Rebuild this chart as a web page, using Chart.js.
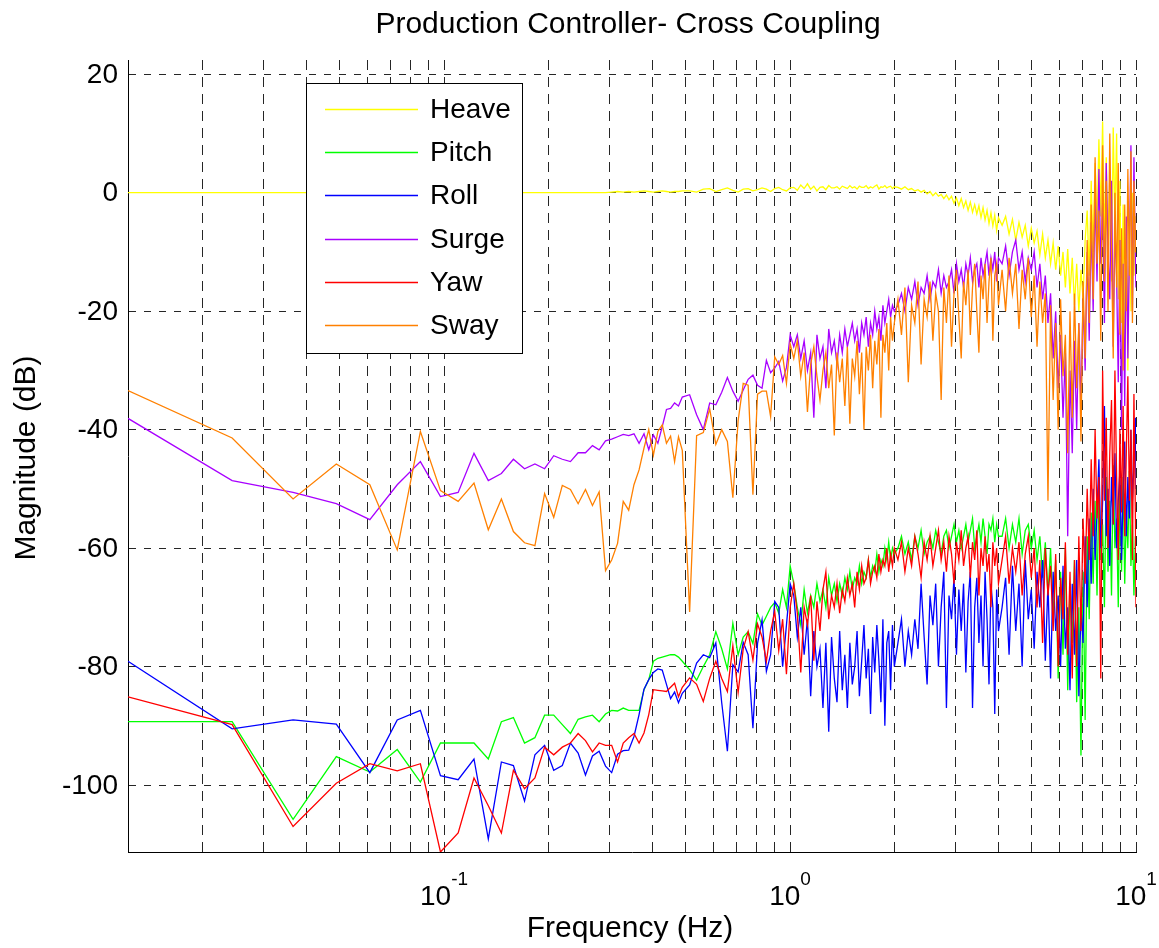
<!DOCTYPE html>
<html>
<head>
<meta charset="utf-8">
<title>Production Controller- Cross Coupling</title>
<script src="https://cdn.jsdelivr.net/npm/chart.js@4.4.1/dist/chart.umd.min.js"></script>
<style>
  html, body { margin: 0; padding: 0; background: #fff; }
  #wrap { width: 1159px; height: 948px; }
</style>
</head>
<body>
<div id="wrap"><canvas id="plot" width="1159" height="948"></canvas></div>
<script>
// ---- data ----
const TITLE = 'Production Controller- Cross Coupling';
const X_LABEL = 'Frequency (Hz)';
const Y_LABEL = 'Magnitude (dB)';

const BIN_HZ = 100 / 8192;   // fft bin width
function span(a, b, step) { const out = []; for (let k = a; k <= b; k += step) out.push(k); return out; }
// bins kept from the spectrum (every bin at low freq, thinned out above 1 Hz)
const bins = [].concat(span(1, 40, 1), span(42, 82, 2), span(84, 164, 2), span(168, 328, 4), span(336, 816, 8), [819]);
const freqs = bins.map(k => k * BIN_HZ);

const seriesNames = ['Heave', 'Pitch', 'Roll', 'Surge', 'Yaw', 'Sway'];
const seriesColors = ['#ffff00', '#00ff00', '#0000ff', '#a800ff', '#ff0000', '#ff8000'];

const heave = [
  0,0,0,0,0,0,0,0,0,0, 0,0,0,0,0,0,0,0,0,0, 0,0,0,0,0.1,0.2,0.1,0.2,0.1,0.2,
  0.3,0.2,0.1,0.2,0.3,0.2,0.1,0.2,0.2,0.3,
  0.3,0.1,0.6,0.7,0.2,0.5,0.8,0.4,0.1,0.6, 0.7,0.3,0.5,0.8,0.6,0.2,0.7,0.9,0.5,0.3, 0.8,
  0.9,0.4,1.3,0.7,1.5,0.6,1.1,0.3,0.9,1.0, 0.5,1.2,0.8,0.8,1.0,0.6,1.1,0.9,0.7,1.2,
  0.8,1.0,0.6,1.1,0.9,0.9,1.2,0.7,1.0,0.8, 1.1,1.3,0.6,1.0,0.9,1.2,0.8,1.0,1.1,0.7, 1.0,
  0.9,0.6,1.0,0.5,0.7,0.3,0.5,0.1,0.4,-0.2, 0.2,-0.5,0,-0.6,-0.3,-1.0,-0.4,-1.2,-0.6,-1.8,
  -0.9,-2.2,-1.0,-2.5,-1.4,-3.0,-1.6,-3.3,-2.0,-3.6, -2.2,-4.2,-2.5,-4.6,-3.0,-5.2,-3.4,-5.6,-3.8,-6.4, -4.2,
  -5.5,-4.0,-7.0,-4.5,-8.0,-5.0,-7.5,-5.5,-9.0,-6.0, -8.5,-6.5,-10.5,-7.0,-11.0,-8.0,-12.0,-8.5,-13.0,-9.0,
  -14.0,-10.0,-16.0,-9.5,-17.0,-11.0,-19.0,-12.0,-20.0,-13.0, -18.0,-8.0,-3.0,-14.0,2.0,-10.0,5.0,-6.0,9.0,-4.0,
  12.0,-8.0,6.0,-12.0,3.0,-15.0,11.0,-5.0,10.0,-18.0, 2.0,-22.0,-2.0,-26.0,-8.0,-30.0,-5.0,-20.0,0.0,-14.0, -4.0,-8.0
];

const pitch = [
  -89.3,-89.3,-105.8,-95.2,-97.8,-94.0,-99.5,-92.9,-92.9,-92.9, -95.6,-89.3,-88.6,-92.9,-92.0,-88.2,-88.2,-89.8,-91.3,-88.9,
  -88.5,-88.2,-89.3,-88.0,-87.4,-87.5,-87.0,-87.4,-87.4,-87.4, -83.9,-82.2,-79.1,-78.6,-78.4,-78.2,-78.0,-78.0,-78.4,-79.1,
  -80.5,-82.3,-80.0,-78.0,-74.1,-77.0,-80.4,-72.7,-78.0,-75.0, -74.1,-76.1,-71.1,-73.0,-71.5,-70.0,-69.2,-71.0,-67.0,-70.0, -63.0,
  -66,-70,-73,-67,-71,-68,-70,-66,-69,-67, -70,-65,-68,-66,-69,-66,-68,-65,-67,-64,
  -67,-65,-66,-63,-66,-64,-65,-62,-65,-63, -64,-61,-64,-62,-63,-60,-62,-59,-62,-60, -61,
  -60,-58,-61,-59,-62,-58,-60,-57,-61,-59, -58,-60,-57,-59,-61,-58,-57,-60,-58,-56,
  -59,-57,-60,-58,-56,-59,-57,-55,-60,-58, -56,-59,-55,-58,-61,-56,-57,-55,-59,-56, -58,
  -58,-55,-60,-56,-59,-55,-61,-57,-56,-60, -57,-62,-58,-65,-59,-68,-60,-72,-62,-82,
  -64,-78,-60,-84,-66,-76,-62,-86,-70,-95, -64,-89,-58,-72,-54,-66,-52,-68,-50,-62,
  -56,-70,-48,-64,-52,-68,-46,-60,-55,-70, -50,-64,-48,-66,-54,-60,-47,-63,-56,-68, -58,-62
];

const roll = [
  -79.1,-90.5,-89.0,-89.7,-97.9,-89.0,-87.4,-98.4,-99.1,-95.6, -109.1,-96.1,-96.7,-102.7,-94.9,-93.3,-97.5,-96.7,-92.9,-94.6,
  -98.3,-95.1,-94.3,-96.8,-97.9,-94.8,-94.2,-94.1,-91.8,-88.1, -83.8,-82.2,-81.0,-80.4,-80.6,-83.0,-85.4,-84.3,-86.1,-84.5,
  -83.1,-79.4,-78.0,-78.5,-76.0,-86.1,-94.3,-79.7,-80.9,-75.9, -78.0,-90.4,-76.1,-72.1,-80.8,-78.0,-69.0,-70.0,-80.0,-73.0, -66.0,
  -68,-75,-70,-78,-72,-85,-74,-80,-77,-87, -76,-91,-75,-82,-86,-74,-84,-78,-87,-76,
  -83,-80,-74,-85,-79,-73,-82,-77,-88,-75, -81,-73,-79,-86,-72,-90,-76,-74,-84,-73, -80,
  -76,-72,-80,-74,-78,-72,-77,-66,-75,-83, -68,-73,-66,-80,-70,-64,-87,-68,-72,-65,
  -78,-67,-74,-66,-81,-69,-64,-87,-70,-65, -76,-68,-80,-64,-72,-83,-66,-70,-88,-67, -74,
  -70,-65,-78,-63,-74,-66,-80,-62,-72,-67, -77,-64,-70,-62,-79,-66,-82,-64,-74,-68,
  -80,-63,-77,-70,-84,-66,-78,-62,-85,-70, -76,-58,-70,-55,-66,-50,-62,-54,-45,-60,
  -52,-36,-58,-50,-63,-48,-56,-44,-60,-52, -47,-62,-50,-42,-58,-48,-55,-40,-52,-46, -38,-50
];

const surge = [
  -38.1,-48.6,-50.6,-52.5,-55.2,-49.3,-45.4,-51.3,-50.6,-44.0, -48.6,-47.4,-45.0,-46.6,-45.8,-46.6,-44.4,-45.0,-45.4,-43.9,
  -43.9,-42.7,-43.4,-41.9,-41.6,-41.2,-40.8,-41.0,-40.7,-42.3, -40.7,-43.4,-40.9,-42.3,-39.5,-36.6,-36.4,-35.5,-36.0,-34.5,
  -34.1,-37.5,-40.0,-35.5,-35.8,-33.7,-31.2,-33.5,-35.2,-33.3, -31.5,-30.8,-32.5,-33.0,-28.3,-30.4,-29.6,-28.5,-31.8,-29.5, -24.0,
  -26,-24,-28,-25,-30,-27,-38,-24,-28,-26, -33,-23,-27,-25,-29,-24,-27,-23,-26,-24,
  -22,-25,-23,-27,-22,-24,-21,-26,-22,-24, -20,-23,-21,-25,-19,-22,-20,-18,-21,-19, -20,
  -19,-17,-20,-16,-18,-15,-19,-16,-17,-14, -18,-15,-16,-13,-17,-14,-16,-15,-13,-17,
  -12,-15,-13,-16,-12,-14,-11,-15,-13,-12, -16,-11,-14,-12,-10,-14,-11,-13,-10,-15, -11,
  -12,-9,-14,-10,-8,-13,-10,-15,-11,-13, -10,-16,-12,-18,-14,-22,-17,-28,-20,-33,
  -24,-38,-27,-58,-30,-44,-25,-40,-22,-36, -18,-30,-10,-25,-5,-20,0,-15,4,-12,
  -2,-22,5,-10,-18,2,-26,-6,-14,-32, -8,-40,-12,-36,-4,-28,-10,8,-20,6, -12,-16
];

const yaw = [
  -85.1,-89.8,-107.0,-99.7,-96.4,-97.6,-96.4,-111.3,-108.1,-98.8, -103.5,-108.1,-97.5,-100.6,-98.8,-93.6,-94.9,-93.6,-92.9,-91.3,
  -92.5,-94.4,-92.9,-93.3,-93.3,-96.1,-92.9,-92.0,-91.3,-92.9, -91.2,-88.1,-83.9,-84.0,-84.1,-84.2,-83.5,-82.8,-85.1,-83.5,
  -81.9,-83.0,-85.9,-82.0,-79.1,-82.0,-84.2,-76.5,-84.4,-77.0, -74.1,-78.9,-72.8,-75.0,-79.1,-74.0,-70.7,-77.3,-72.0,-81.3, -70.0,
  -66,-71,-81,-70,-73,-68,-79,-69,-74,-67, -64,-72,-68,-70,-66,-71,-67,-69,-65,-68,
  -66,-70,-64,-67,-63,-66,-65,-62,-66,-64, -63,-65,-61,-64,-62,-63,-60,-64,-61,-63, -60,
  -62,-59,-64,-60,-63,-58,-61,-65,-59,-62, -58,-63,-60,-57,-62,-59,-64,-58,-61,-66,
  -59,-62,-57,-63,-60,-58,-65,-59,-62,-57, -68,-60,-63,-58,-64,-61,-70,-59,-63,-60, -66,
  -62,-58,-66,-60,-64,-59,-68,-61,-58,-65, -60,-70,-62,-76,-60,-68,-63,-74,-61,-80,
  -65,-72,-59,-78,-64,-82,-62,-80,-58,-74, -55,-66,-50,-62,-45,-58,-40,-55,-48,-82,
  -30,-52,-38,-60,-44,-35,-56,-30,-48,-62, -40,-54,-36,-58,-44,-31,-52,-40,-62,-34, -55,-70
];

const sway = [
  -33.4,-41.4,-51.7,-45.8,-49.3,-60.3,-40.3,-50.3,-52.1,-49.0, -56.9,-51.7,-57.2,-59.1,-59.6,-50.8,-54.8,-49.4,-50.1,-52.5,
  -50.1,-52.8,-50.5,-63.8,-62.0,-59.2,-52.1,-53.6,-49.3,-46.8, -43.1,-40.0,-44.3,-40.3,-39.2,-42.3,-41.1,-45.4,-41.2,-43.5,
  -70.8,-41.0,-40.5,-36.5,-42.5,-40.0,-42.0,-51.5,-38.5,-32.2, -32.5,-51.0,-34.0,-33.5,-33.5,-37.8,-27.7,-29.0,-27.5,-32.2, -25.5,
  -28,-25,-31,-27,-37,-29,-26,-31,-35,-30, -27,-33,-29,-41,-27,-32,-28,-36,-26,-39,
  -28,-31,-25,-34,-27,-40,-26,-30,-24,-33, -25,-29,-23,-38,-24,-27,-22,-30,-21,-25, -22,
  -18,-24,-16,-32,-19,-22,-15,-29,-18,-21, -15,-25,-17,-20,-35,-16,-22,-14,-26,-17,
  -13,-21,-28,-15,-19,-13,-24,-16,-12,-20, -27,-14,-18,-12,-22,-15,-11,-25,-14,-12, -19,
  -13,-20,-11,-17,-12,-23,-13,-18,-11,-21, -14,-26,-15,-22,-17,-52,-19,-35,-22,-40,
  -18,-31,-24,-44,-20,-38,-17,-33,-22,-42, -15,-28,-8,-22,-2,-18,6,-12,-3,-25,
  8,-15,2,-20,10,-10,-28,0,-16,5, -24,-6,-30,-2,-20,4,-14,7,-22,2, -10,-6
];

const seriesValues = [heave, pitch, roll, surge, yaw, sway];

const xGridTicks = [0.02,0.03,0.04,0.05,0.06,0.07,0.08,0.09,0.1,0.2,0.3,0.4,0.5,0.6,0.7,0.8,0.9,1,2,3,4,5,6,7,8,9,10];
const xDecades = [-1, 0, 1];
const yTicks = [-100, -80, -60, -40, -20, 0, 20];
const Y_MIN = -111.3, Y_MAX = 22.4;

// ---- drawing ----
const FONT = '"Liberation Sans", Arial, Helvetica, sans-serif';
const LINE_W = 1.3;

const matlabText = {
  id: 'matlabText',
  afterDraw(chart) {
    const { ctx, chartArea: area } = chart;
    const xs = chart.scales.x, ys = chart.scales.y;
    ctx.save();
    ctx.fillStyle = '#000';

    // title
    ctx.font = '30px ' + FONT;
    ctx.textAlign = 'center';
    ctx.textBaseline = 'alphabetic';
    ctx.fillText(TITLE, 628, 33);

    // y tick labels
    ctx.font = '28px ' + FONT;
    ctx.textAlign = 'right';
    ctx.textBaseline = 'middle';
    yTicks.forEach(v => ctx.fillText(String(v), area.left - 10, ys.getPixelForValue(v) + 1));

    // x tick labels 10^n
    ctx.textBaseline = 'alphabetic';
    ctx.textAlign = 'left';
    xDecades.forEach(e => {
      const px = xs.getPixelForValue(Math.pow(10, e));
      ctx.font = '28px ' + FONT;
      const wBase = ctx.measureText('10').width;
      ctx.font = '19px ' + FONT;
      const wExp = ctx.measureText(String(e)).width;
      const left = px - (wBase + wExp) / 2;
      ctx.font = '28px ' + FONT;
      ctx.fillText('10', left, 905);
      ctx.font = '19px ' + FONT;
      ctx.fillText(String(e), left + wBase, 885);
    });

    // axis labels
    ctx.font = '30px ' + FONT;
    ctx.textAlign = 'center';
    ctx.fillText(X_LABEL, 630, 937);
    ctx.save();
    ctx.translate(35, 458);
    ctx.rotate(-Math.PI / 2);
    ctx.fillText(Y_LABEL, 0, 0);
    ctx.restore();

    // legend box
    const box = { x: 306, y: 83, w: 216, h: 270 };
    ctx.fillStyle = '#fff';
    ctx.fillRect(box.x, box.y, box.w, box.h);
    ctx.strokeStyle = '#000';
    ctx.lineWidth = 1;
    ctx.setLineDash([]);
    ctx.strokeRect(box.x + 0.5, box.y + 0.5, box.w, box.h);
    ctx.font = '28px ' + FONT;
    ctx.textAlign = 'left';
    ctx.textBaseline = 'middle';
    seriesNames.forEach((name, i) => {
      const rowY = Math.round(109 + i * 43.2) + 0.5;
      ctx.strokeStyle = seriesColors[i];
      ctx.lineWidth = LINE_W;
      ctx.beginPath();
      ctx.moveTo(325, rowY);
      ctx.lineTo(418, rowY);
      ctx.stroke();
      ctx.fillStyle = '#000';
      ctx.fillText(name, 430, rowY + 1);
    });
    ctx.restore();
  }
};

const datasets = seriesNames.map((name, i) => ({
  label: name,
  data: seriesValues[i].map((v, j) => ({ x: freqs[j], y: v })),
  borderColor: seriesColors[i],
  backgroundColor: seriesColors[i],
  borderWidth: LINE_W,
  pointRadius: 0,
  tension: 0,
  fill: false,
  order: seriesNames.length - 1 - i   // last series ends up on top, as in the original plot
}));

const gridStyle = { color: 'rgba(0,0,0,0.85)', lineWidth: 1, drawTicks: false };

new Chart(document.getElementById('plot'), {
  type: 'line',
  data: { datasets },
  options: {
    responsive: false,
    devicePixelRatio: 1,
    animation: false,
    events: [],
    layout: { padding: { left: 128, top: 60, right: 23, bottom: 96 } },
    plugins: { legend: { display: false }, tooltip: { enabled: false }, title: { display: false } },
    scales: {
      x: {
        type: 'logarithmic',
        min: BIN_HZ,
        max: 10,
        afterBuildTicks: s => { s.ticks = xGridTicks.map(v => ({ value: v })); },
        ticks: { display: false },
        grid: gridStyle,
        border: { display: true, color: '#000', width: 1, dash: [10, 7] }
      },
      y: {
        type: 'linear',
        min: Y_MIN,
        max: Y_MAX,
        afterBuildTicks: s => { s.ticks = yTicks.map(v => ({ value: v })); },
        ticks: { display: false },
        grid: gridStyle,
        border: { display: true, color: '#000', width: 1, dash: [7, 8] }
      }
    }
  },
  plugins: [matlabText]
});
</script>
</body>
</html>
